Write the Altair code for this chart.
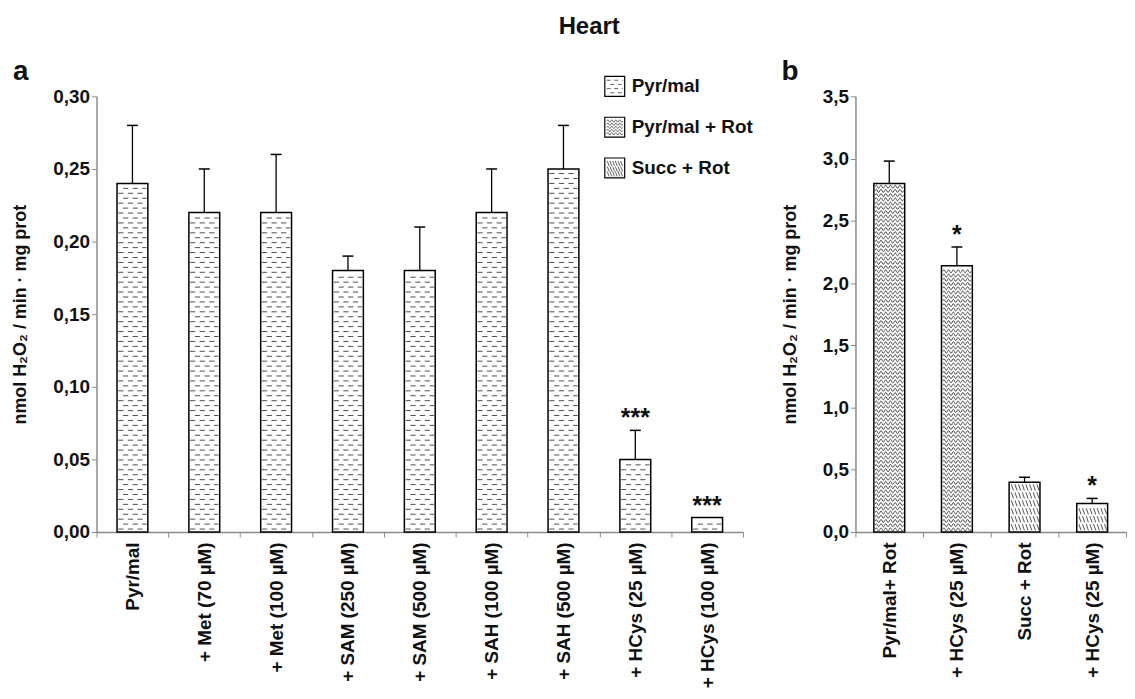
import altair as alt
import pandas as pd

# ---------------- data ----------------
a_labels = ["Pyr/mal", "+ Met (70 µM)", "+ Met (100 µM)", "+ SAM (250 µM)", "+ SAM (500 µM)",
            "+ SAH (100 µM)", "+ SAH (500 µM)", "+ HCys (25 µM)", "+ HCys (100 µM)"]
a_values = [0.24, 0.22, 0.22, 0.18, 0.18, 0.22, 0.25, 0.05, 0.01]
a_errors = [0.04, 0.03, 0.04, 0.01, 0.03, 0.03, 0.03, 0.02, 0.0]
a_sig = ["", "", "", "", "", "", "", "***", "***"]
a_groups = ["Pyr/mal"] * 9

b_keys = ["b1", "b2", "b3", "b4"]
b_labels = ["Pyr/mal+ Rot", "+ HCys (25 µM)", "Succ + Rot", "+ HCys (25 µM)"]
b_values = [2.80, 2.14, 0.40, 0.23]
b_errors = [0.18, 0.15, 0.04, 0.04]
b_sig = ["", "*", "", "*"]
b_groups = ["Pyr/mal + Rot", "Pyr/mal + Rot", "Succ + Rot", "Succ + Rot"]

legend_names = ["Pyr/mal", "Pyr/mal + Rot", "Succ + Rot"]

a_ticks = [0, 0.05, 0.10, 0.15, 0.20, 0.25, 0.30]
b_ticks = [0, 0.5, 1.0, 1.5, 2.0, 2.5, 3.0, 3.5]

df_a = pd.DataFrame({"key": a_labels, "value": a_values, "err": a_errors, "sig": a_sig, "grp": a_groups})
df_b = pd.DataFrame({"key": b_keys, "value": b_values, "err": b_errors, "sig": b_sig, "grp": b_groups})
df_leg = pd.DataFrame({"name": legend_names})

FONT = "Liberation Sans"
YTITLE = "nmol H₂O₂ / min · mg prot"
AXIS_GRAY = "#8a8a8a"
BAR_W = 31

# ---------------- texture paths (style) ----------------
def dash_row(start, y=0.0, lo=-0.92, hi=0.92, dash=0.34, period=0.62):
    parts, x = [], start
    while x < hi:
        x0, x1 = max(x, lo), min(x + dash, hi)
        if x1 - x0 > 0.06:
            parts.append(f"M{x0:.3f},{y:.3f}L{x1:.3f},{y:.3f}")
        x += period
    return "".join(parts)

def wave_row(y=0.0, x0=-0.92, x1=0.92, n=12, amp=0.2):
    h = (x1 - x0) / n
    s = f"M{x0:.3f},{y:.3f}"
    for i in range(n):
        cx = x0 + h * (i + 0.5)
        ex = x0 + h * (i + 1)
        cy = y + (-amp if i % 2 == 0 else amp)
        s += f"Q{cx:.3f},{cy:.3f},{ex:.3f},{y:.3f}"
    return s

def hatch_row(y=0.0, x0=-0.86, x1=0.80, n=8, hh=0.2, dx=0.14):
    step = (x1 - x0) / (n - 1)
    return "".join(f"M{x0 + i*step:.3f},{y - hh:.3f}L{x0 + i*step + dx:.3f},{y + hh:.3f}" for i in range(n))

tex_domain = ["Pyr/mal_0", "Pyr/mal_1", "Pyr/mal + Rot_0", "Pyr/mal + Rot_1", "Succ + Rot_0", "Succ + Rot_1"]
tex_range = [dash_row(-0.92), dash_row(-0.61), wave_row(), wave_row(), hatch_row(), hatch_row()]

sw_range = [
    "".join(dash_row(-0.8 + (0.35 if i % 2 else 0), y=yy, lo=-0.8, hi=0.8, dash=0.4, period=0.75)
            for i, yy in enumerate([-0.62, -0.2, 0.22, 0.64])),
    "".join(wave_row(y=yy, x0=-0.8, x1=0.8, n=8, amp=0.25) for yy in [-0.62, -0.3, 0.02, 0.34, 0.66]),
    "".join(hatch_row(y=yy, x0=-0.75, x1=0.6, n=6, hh=0.25, dx=0.18) for yy in [-0.45, 0.1, 0.6]),
]

# ---------------- helpers ----------------
def x_enc(sort, label_expr=None):
    ax = dict(title=None, labelAngle=-90, tickBand="extent", tickSize=5, labelPadding=5,
              domainColor=AXIS_GRAY, tickColor=AXIS_GRAY, domainWidth=1.5)
    if label_expr:
        ax["labelExpr"] = label_expr
    return alt.X("key:N", sort=sort, scale=alt.Scale(paddingInner=0, paddingOuter=0), axis=alt.Axis(**ax))

def y_enc(field, dom, ticks, fmt):
    return alt.Y(f"{field}:Q", scale=alt.Scale(domain=dom, nice=False, zero=True),
                 axis=alt.Axis(values=ticks, title=YTITLE, grid=False, tickSize=5,
                               labelExpr=f"replace(format(datum.value, '{fmt}'), '.', ',')",
                               domainColor=AXIS_GRAY, tickColor=AXIS_GRAY, domainWidth=1.5,
                               titlePadding=23))

def panel(df, sort, dom, ticks, fmt, step_expr, label_expr=None):
    X = x_enc(sort, label_expr)
    base = alt.Chart(df).transform_calculate(top="datum.value + datum.err")
    bars = base.mark_bar(size=BAR_W, fill="white", stroke="black", strokeWidth=1.5).encode(
        x=X, y=y_enc("value", dom, ticks, fmt))
    tex = alt.Chart(df).transform_calculate(st=step_expr).transform_calculate(
        lev="sequence(datum.st * 0.6, datum.value - datum.st * 0.4, datum.st)"
    ).transform_flatten(["lev"]).transform_calculate(
        pat="datum.grp + '_' + (floor(datum.lev / datum.st) % 2)"
    ).mark_point(filled=False, size=BAR_W * BAR_W, strokeWidth=0.9, opacity=1, color="#3c3c3c").encode(
        x=X, y=y_enc("lev", dom, ticks, fmt),
        shape=alt.Shape("pat:N", scale=alt.Scale(domain=tex_domain, range=tex_range), legend=None))
    rule = base.transform_filter("datum.err > 0").mark_rule(color="black", strokeWidth=1.3).encode(
        x=X, y=y_enc("value", dom, ticks, fmt), y2="top:Q")
    cap = base.transform_filter("datum.err > 0").mark_tick(color="black", size=11, thickness=1.5, opacity=1).encode(
        x=X, y=y_enc("top", dom, ticks, fmt))
    stars = base.mark_text(font=FONT, fontSize=25, fontWeight="bold", color="#111", baseline="alphabetic", dy=-4).encode(
        x=X, y=y_enc("top", dom, ticks, fmt), text="sig:N")
    return alt.layer(bars, tex, rule, cap, stars)

# ---------------- panel a ----------------
inner_a = panel(df_a, a_labels, [0, 0.3], a_ticks, ".2f", "0.0034")

LEG_Y = alt.Y("name:N", scale=alt.Scale(type="point", domain=legend_names, range=[-10, 72], padding=0), axis=None)
leg_sq = alt.Chart(df_leg).mark_point(shape="square", size=400, filled=True, fill="white", stroke="black",
                                      strokeWidth=1.2, opacity=1).encode(x=alt.value(521), y=LEG_Y)
leg_pat = alt.Chart(df_leg).mark_point(filled=False, size=400, strokeWidth=0.8, opacity=1, color="#3c3c3c").encode(
    x=alt.value(521), y=LEG_Y,
    shape=alt.Shape("name:N", scale=alt.Scale(domain=legend_names, range=sw_range), legend=None))
leg_txt = alt.Chart(df_leg).mark_text(align="left", baseline="middle", font=FONT, fontSize=19,
                                      fontWeight="bold", color="#111").encode(
    x=alt.value(538), y=LEG_Y, text="name:N")

panel_a = alt.layer(inner_a, leg_sq, leg_pat, leg_txt).resolve_scale(
    y="independent", shape="independent"
).properties(width=650, height=438,
             title=alt.TitleParams("a", anchor="start", frame="bounds", fontSize=28, font=FONT,
                                   fontWeight="bold", color="#111", offset=-12, dx=1))

# ---------------- panel b ----------------
b_label_expr = "[" + ",".join(f"'{l}'" for l in b_labels) + "][indexof([" + ",".join(f"'{k}'" for k in b_keys) + "], datum.value)]"
panel_b = panel(df_b, b_keys, [0, 3.5], b_ticks, ".1f",
                "datum.grp == 'Succ + Rot' ? 0.064 : 0.034", b_label_expr).properties(
    width=272, height=438,
    title=alt.TitleParams("b", anchor="start", frame="bounds", fontSize=28, font=FONT,
                          fontWeight="bold", color="#111", offset=1))

chart = alt.hconcat(panel_a, panel_b, spacing=28).properties(
    title=alt.TitleParams("Heart", anchor="middle", fontSize=24, font=FONT, fontWeight="bold", color="#111",
                          dx=20, offset=19),
    padding={"left": 4, "top": 5, "right": 0, "bottom": 0},
).configure_axis(
    labelFont=FONT, labelFontSize=19, labelFontWeight="bold", labelColor="#111",
    titleFont=FONT, titleFontSize=18, titleFontWeight="bold", titleColor="#111",
).configure_view(stroke=None)

chart.save("out.html", embed_options={"renderer": "svg", "actions": False})
